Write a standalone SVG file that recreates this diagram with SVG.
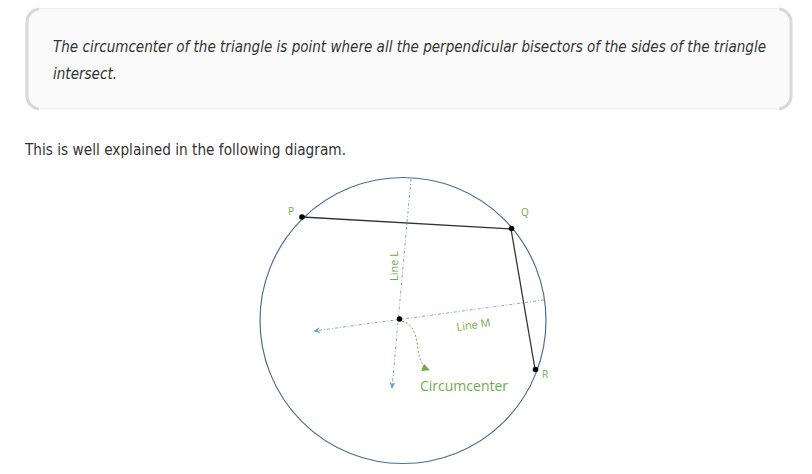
<svg xmlns="http://www.w3.org/2000/svg" width="812" height="474" viewBox="0 0 812 474">
<defs>
<style>
.quote{font-family:"DejaVu Sans Condensed","Liberation Sans",sans-serif;font-style:italic;font-size:15px;fill:#333}
.body{font-family:"DejaVu Sans Condensed","Liberation Sans",sans-serif;font-size:15px;fill:#333}
.lbl{font-family:"Open Sans","Liberation Sans",sans-serif;fill:#70ad47}
.dash{stroke:#7fa9d6;stroke-width:1;stroke-dasharray:3,2,1,2;fill:none}
.pt{fill:#000}
.edge{fill:none;stroke:#d9d9d9;stroke-width:3}
</style>
<marker id="ab" markerWidth="8" markerHeight="8" refX="6" refY="4" orient="auto" markerUnits="userSpaceOnUse">
<path d="M0,1 L7,4 L0,7 L2,4 Z" fill="#6d9ed3"/>
</marker>
<marker id="ag" markerWidth="10" markerHeight="10" refX="7" refY="5" orient="auto" markerUnits="userSpaceOnUse">
<path d="M0,1 L8,5 L0,9 Z" fill="#70ad47"/>
</marker>
</defs>
<rect width="812" height="474" fill="#fff"/>
<g id="quote">
<rect x="26" y="8.5" width="766" height="100.5" rx="13" fill="#fafafa" stroke="#efefef" stroke-width="1"/>
<path class="edge" d="M39,9 A13,13 0 0 0 27,22 V96 A13,13 0 0 0 39,109"/>
<path class="edge" d="M779,9 A13,13 0 0 1 791,22 V96 A13,13 0 0 1 779,109"/>
<text class="quote" x="53" y="52" textLength="713" lengthAdjust="spacingAndGlyphs">The circumcenter of the triangle is point where all the perpendicular bisectors of the sides of the triangle</text>
<text class="quote" x="53" y="79" textLength="64" lengthAdjust="spacingAndGlyphs">intersect.</text>
</g>
<text class="body" x="25" y="155" textLength="321" lengthAdjust="spacingAndGlyphs">This is well explained in the following diagram.</text>
<g id="circle"><circle cx="403" cy="320.5" r="143" fill="none" stroke="#4a6f94" stroke-width="1.2"/></g>
<g id="connectors">
<line class="dash" x1="411" y1="179" x2="392" y2="388" marker-end="url(#ab)"/>
<line class="dash" x1="544" y1="300" x2="314" y2="331" marker-end="url(#ab)"/>
<path d="M402,321 C414,324 417,338 418,350 C420,362 424,368 429,370" fill="none" stroke="#70ad47" stroke-width="1" stroke-dasharray="2,2" marker-end="url(#ag)"/>
<polyline points="302,217 511,229 535,369" fill="none" stroke="#333" stroke-width="1.3"/>
</g>
<g id="P"><circle class="pt" cx="302" cy="217" r="2.8"/><text class="lbl" x="288" y="215" font-size="10">P</text></g>
<g id="Q"><circle class="pt" cx="511.5" cy="228.5" r="2.8"/><text class="lbl" x="521" y="216" font-size="10">Q</text></g>
<g id="R"><circle class="pt" cx="535.5" cy="369.5" r="2.8"/><text class="lbl" x="542" y="378" font-size="10">R</text></g>
<g id="O"><circle class="pt" cx="399.5" cy="319" r="2.8"/></g>
<g id="labels">
<text class="lbl" font-size="11" transform="translate(398,281) rotate(-90)">Line L</text>
<text class="lbl" font-size="11" transform="translate(457,331) rotate(-8)">Line M</text>
<text class="lbl" x="420" y="391" font-size="14">Circumcenter</text>
</g>
</svg>
